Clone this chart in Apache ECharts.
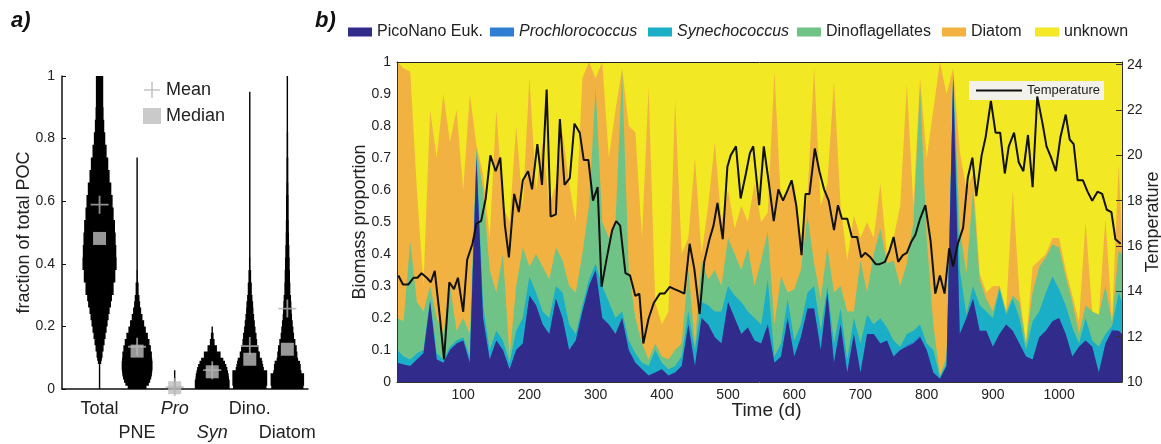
<!DOCTYPE html>
<html><head><meta charset="utf-8">
<script src="https://cdn.jsdelivr.net/npm/echarts@6.0.0/dist/echarts.min.js"></script>
<style>html,body{margin:0;padding:0;background:#fff}#c{width:1161px;height:444px}</style>
</head><body><div id="c"></div>
<script>
// ---------- Panel a: violin data ----------
const GROUPS = ['Total', 'PNE', 'Pro', 'Syn', 'Dino.', 'Diatom'];
const GROUP_POS = [1, 2, 3, 4, 5, 6];
// histogram bin edges (fraction of total POC)
const BIN_EDGES = [0,.01,.02,.03,.04,.05,.06,.07,.08,.09,.10,.12,.14,.16,.18,.20,.22,.24,.26,.28,.30,.34,.38,.42,.46,.50,.54,.58,.62,.66,.70,.74,.78,.82,.86,.90,.95,1.00];
// violin half-widths per bin (in category units)
const TOTAL_W = [.018,.018,.018,.018,.018,.018,.018,.018,.045,.063,.080,.107,.134,.161,.188,.214,.241,.268,.304,.330,.375,.420,.455,.446,.429,.411,.375,.348,.313,.268,.232,.188,.152,.125,.107,.098,.098];
const PNE_W = [.250,.313,.348,.375,.393,.402,.411,.411,.411,.402,.393,.366,.330,.286,.232,.188,.143,.107,.080,.063,.040,.022,.013,.009,.007,.007,.007,.007,.013,.018,.009,0,0,0,0,0,0];
const PRO_W = [.013,.013,.013,.005,.005,.005,0,0,0,0,0,0,0,0,0,0,0,0,0,0,0,0,0,0,0,0,0,0,0,0,0,0,0,0,0,0,0];
const SYN_W = [.464,.464,.464,.446,.438,.420,.402,.375,.339,.295,.223,.125,.063,.036,.013,0,0,0,0,0,0,0,0,0,0,0,0,0,0,0,0,0,0,0,0,0,0];
const DINO_W = [.446,.464,.464,.464,.464,.464,.375,.357,.339,.321,.268,.232,.196,.179,.152,.134,.116,.098,.089,.071,.054,.036,.022,.018,.013,.018,.013,.009,.013,.009,.013,.009,.009,.007,.007,.007,0];
const DIATOM_W = [.429,.446,.446,.446,.446,.375,.357,.357,.339,.286,.268,.250,.214,.179,.161,.143,.125,.116,.107,.098,.080,.071,.063,.054,.045,.040,.036,.036,.031,.027,.027,.022,.022,.018,.018,.013,.009];
const VIOLIN_W = [TOTAL_W, PNE_W, PRO_W, SYN_W, DINO_W, DIATOM_W];
const MEAN_VALS = [0.589, 0.135, 0.006, 0.060, 0.137, 0.257];
const MEDIAN_VALS = [0.481, 0.121, 0.004, 0.055, 0.095, 0.127];

// ---------- Panel b: biomass proportions ----------
const DAYS = [0,10,20,30,40,50,60,70,80,90,100,110,120,130,140,150,160,170,180,190,200,210,220,230,240,250,260,270,280,290,300,310,320,330,340,350,360,370,380,390,400,410,420,430,440,450,460,470,480,490,500,510,520,530,540,550,560,570,580,590,600,610,620,630,640,650,660,670,680,690,700,710,720,730,740,750,760,770,780,790,800,810,820,830,840,850,860,870,880,890,900,910,920,930,940,950,960,970,980,990,1000,1010,1020,1030,1040,1050,1060,1070,1080,1090,1095];
const PICO = [.06,.055,.05,.07,.09,.25,.07,.06,.10,.12,
 .13,.06,.70,.20,.07,.13,.10,.04,.10,.12,
 .27,.24,.18,.15,.26,.20,.10,.13,.22,.30,
 .35,.20,.18,.15,.20,.10,.06,.04,.02,.03,
 .04,.02,.03,.05,.18,.05,.20,.18,.14,.12,
 .25,.20,.15,.17,.13,.12,.18,.06,.08,.20,
 .08,.14,.23,.23,.10,.28,.06,.18,.03,.15,
 .03,.15,.15,.12,.13,.08,.10,.11,.12,.14,
 .10,.03,.01,.05,.95,.15,.20,.26,.16,.16,
 .11,.15,.18,.16,.12,.08,.07,.14,.16,.19,
 .20,.15,.08,.11,.13,.11,.03,.12,.16,.16,
 .15];
const PRO = [0,0,0,0,0,0,0,0,0,0,
 0,0,0,0,0,0,0,0,0,0,
 0,0,0,0,0,0,0,0,0,0,
 0,0,0,0,0,0,0,0,0,0,
 0,0,0,0,0,0,0,0,0,0,
 0,0,0,0,0,0,0,0,0,0,
 0,0,0,0,0,0,0,0,0,0,
 0,0,0,0,0,0,0,.005,.005,.005,
 0,0,0,0,0,0,0,0,0,0,
 0,0,0,0,0,0,0,0,0,0,
 0,0,0,0,0,0,0,0,.005,0,
 0];
const SYN = [.04,.025,.02,.02,.01,.01,.02,.01,.01,.01,
 .01,.02,.02,.04,.03,.03,.03,.02,.06,.08,
 .06,.04,.04,.05,.04,.08,.08,.02,.02,.02,
 .02,.10,.07,.05,.02,.03,.03,.02,.03,.07,
 .02,.02,.02,.03,.04,.05,.05,.06,.08,.10,
 .05,.07,.10,.05,.07,.06,.14,.02,.04,.06,
 .05,.04,.05,.07,.06,.02,.06,.05,.04,.05,
 .09,.06,.03,.08,.04,.05,.01,.035,.035,.035,
 .02,.07,.005,.01,.01,.20,.01,.04,.08,.06,
 .09,.14,.03,.10,.08,.02,.12,.08,.12,.14,
 .09,.09,.09,.01,.07,.02,.08,.03,.01,.12,
 .10];
const DINO = [.10,.11,.37,.16,.12,.04,.11,.08,.19,.03,
 .06,.07,.01,.36,.25,.12,.27,.02,.14,.22,
 .03,.12,.14,.12,.12,.10,.12,.13,.16,.23,
 .55,.20,.20,.30,.75,.22,.11,.06,.02,.02,
 .02,.03,.05,.04,.13,.02,.13,.08,.13,.08,
 .15,.13,.10,.20,.10,.20,.15,.10,.21,.02,
 .16,.17,.24,.07,.10,.12,.16,.07,.15,.02,
 .26,.07,.22,.28,.20,.25,.19,.22,.34,.74,
 .33,.08,.005,.02,.01,.13,.13,.30,.08,.04,
 .02,.01,.01,.01,.05,.02,.09,.14,.11,.10,
 .13,.09,.08,.03,.04,.09,.10,.15,.01,.13,
 .15];
const DIATOM = [.80,.79,.53,.35,.08,.55,.50,.75,.45,.69,
 .40,.75,.01,.05,.10,.57,.15,.42,.50,.13,
 .59,.20,.39,.23,.20,.40,.32,.22,.55,.45,
 .03,.50,.25,.35,.01,.45,.58,.33,.85,.13,
 .10,.15,.78,.28,.10,.58,.02,.23,.40,.20,
 .15,.08,.20,.08,.32,.12,.06,.79,.23,.32,
 .33,.10,.06,.61,.29,.20,.66,.25,.16,.30,
 .07,.22,.05,.14,.03,.07,.25,.56,.05,.03,
 .25,.67,.98,.82,.01,.24,.26,.05,.02,.02,
 .08,0,0,.33,.03,0,.08,.02,.01,.02,
 .03,.02,.02,.04,.26,0,0,.21,.01,.27,
 .05];
const UNKNOWN = [0,.02,.03,.40,.70,.15,.30,.10,.25,.15,
 .40,.10,.26,.35,.55,.15,.45,.50,.20,.45,
 .05,.40,.25,.45,.38,.22,.38,.50,.05,0,
 .05,0,.30,.15,.02,.20,.22,.55,.08,.75,
 .82,.78,.12,.60,.55,.30,.60,.45,.25,.50,
 .40,.52,.45,.50,.38,.50,.47,.03,.44,.40,
 .38,.55,.42,.02,.45,.38,.06,.45,.62,.48,
 .55,.50,.55,.38,.60,.55,.45,.07,.45,.05,
 .30,.15,0,.10,.02,.28,.40,.35,.66,.72,
 .70,.70,.78,.40,.72,.88,.64,.62,.60,.55,
 .55,.65,.73,.81,.50,.78,.79,.49,.81,.32,
 .55];
// temperature (deg C), sampled roughly weekly
const TEMP_DAYS = [2,9,17,25,31,37,45,51,57,65,
 71,79,86,92,100,106,114,120,127,134,
 141,149,156,163,169,177,184,190,198,204,
 212,219,226,232,240,246,253,261,268,276,
 282,289,296,303,309,317,325,331,337,345,
 352,360,366,372,380,388,397,404,412,419,
 427,434,442,449,457,464,472,478,484,492,
 499,504,512,519,527,533,538,547,554,562,
 569,576,583,589,596,603,611,617,623,631,
 638,645,652,660,666,672,680,687,695,701,
 707,715,723,729,737,744,750,757,764,770,
 777,783,790,798,806,813,820,827,834,840,
 847,855,862,869,875,883,889,897,904,911,
 918,924,932,939,946,953,960,967,975,981,
 988,995,1002,1010,1016,1022,1028,1036,1043,1050,
 1058,1065,1072,1079,1085,1093];
const TEMP = [14.7,14.3,14.3,14.6,14.6,14.8,14.6,14.4,14.9,12.8,
 11.0,14.4,14.1,14.6,13.1,15.4,16.1,17.0,17.1,18.1,
 20.0,19.3,19.9,16.9,15.5,18.3,17.5,18.9,19.3,18.5,
 20.5,18.7,22.9,17.3,17.4,21.6,18.7,19.0,21.4,21.0,
 19.8,19.8,18.0,18.6,14.2,15.5,16.7,17.1,16.9,14.8,
 14.7,13.8,13.9,11.7,12.8,13.5,13.9,13.9,14.2,14.1,
 14.0,13.9,16.1,15.0,13.0,15.3,16.3,16.9,17.9,16.3,
 19.5,20.0,20.4,18.1,19.2,20.1,20.4,17.8,20.4,18.7,
 17.1,18.5,18.0,18.4,18.9,17.8,15.6,18.3,18.3,20.3,
 19.3,18.5,18.0,16.7,17.8,17.2,17.2,16.4,16.4,15.5,
 15.7,15.5,15.2,15.2,15.3,15.8,16.4,15.3,15.6,15.7,
 16.2,16.5,17.2,17.8,16.2,13.9,14.7,13.9,15.9,15.1,
 16.1,16.8,19.0,19.9,18.2,20.0,20.8,22.4,21.0,21.0,
 19.2,20.4,21.0,19.7,19.3,20.9,18.6,22.6,21.4,20.4,
 19.9,19.3,20.8,21.8,20.7,20.5,18.9,18.9,18.4,18.0,
 18.4,18.3,17.6,17.5,16.3,16.1];

const SERIES_NAMES = ['PicoNano Euk.', 'Prochlorococcus', 'Synechococcus', 'Dinoflagellates', 'Diatom', 'unknown'];
const SERIES_VALUES = [PICO, PRO, SYN, DINO, DIATOM, UNKNOWN];
const SERIES_COLORS = ['#312c8c', '#2f7ed3', '#1aafc7', '#6fc387', '#f1b241', '#f2e823'];
const ITALIC_NAMES = ['Prochlorococcus', 'Synechococcus'];

const FONT = '"Liberation Sans", Arial, Helvetica, sans-serif';
const TXT = '#222';

const chart = echarts.init(document.getElementById('c'), null, {renderer: 'canvas'});

function renderViolin(params, api) {
  const i = params.dataIndex;
  const c = api.value(0);
  const w = VIOLIN_W[i];
  const unit = api.size([1, 0])[0];
  const cx = api.coord([c, 0])[0];
  const ys = BIN_EDGES.map(e => api.coord([c, e])[1]);
  const hw = w.map(v => v > 0 ? Math.max(v * unit, 0.7) : 0);
  const pts = [];
  for (let k = 0; k < w.length; k++) { pts.push([cx + hw[k], ys[k]]); pts.push([cx + hw[k], ys[k + 1]]); }
  for (let k = w.length - 1; k >= 0; k--) { pts.push([cx - hw[k], ys[k + 1]]); pts.push([cx - hw[k], ys[k]]); }
  return {type: 'polygon', shape: {points: pts}, style: {fill: '#000'}};
}

const PLUS = 'path://M9,0h2v9h9v2h-9v9h-2v-9h-9v-2h9z';
const LEGEND_LEFT = [348, 490, 648, 797, 942, 1035];

const legends = SERIES_NAMES.map((n, i) => ({
  data: [n], left: LEGEND_LEFT[i], top: 24, itemWidth: 24, itemHeight: 9, icon: 'rect',
  padding: 0, selectedMode: false,
  formatter: name => ITALIC_NAMES.includes(name) ? '{i|' + name + '}' : name,
  textStyle: {fontFamily: FONT, fontSize: 16, color: TXT, rich: {i: {fontStyle: 'italic', fontFamily: FONT, fontSize: 16, color: TXT}}}
}));
legends.push({
  data: ['Mean', 'Median'], orient: 'vertical', left: 143, top: 81, itemWidth: 18, itemHeight: 16, itemGap: 8,
  padding: 0, selectedMode: false,
  textStyle: {fontFamily: FONT, fontSize: 18, color: TXT}
});
legends.push({
  data: ['Temperature'], left: 969, top: 81, itemWidth: 46, itemHeight: 2, icon: 'rect', padding: [3, 4, 3, 7],
  backgroundColor: 'rgba(242,242,242,0.97)', selectedMode: false,
  textStyle: {fontFamily: FONT, fontSize: 13, color: TXT}
});

// stacked layers: each layer is filled from 0 up to the running total, drawn top layer first
const areaSeries = [];
for (let i = SERIES_NAMES.length - 1; i >= 0; i--) {
  areaSeries.push({
    name: SERIES_NAMES[i], type: 'line', xAxisIndex: 1, yAxisIndex: 1,
    symbol: 'none', showSymbol: false, smooth: false, color: SERIES_COLORS[i],
    lineStyle: {width: 0}, areaStyle: {color: SERIES_COLORS[i], opacity: 1, origin: 'start'},
    data: DAYS.map((d, k) => {
      let s = 0;
      for (let j = 0; j <= i; j++) s += SERIES_VALUES[j][k];
      return [d, s];
    }),
    z: 2, silent: true
  });
}

const option = {
  animation: false,
  backgroundColor: '#fff',
  textStyle: {fontFamily: FONT},
  graphic: [
    {type: 'text', left: 11, top: 10, style: {text: 'a)', font: 'italic bold 22px ' + FONT, fill: '#111'}},
    {type: 'text', left: 315, top: 10, style: {text: 'b)', font: 'italic bold 22px ' + FONT, fill: '#111'}}
  ],
  legend: legends,
  grid: [
    {left: 62, top: 76, width: 246, height: 313, outerBoundsMode: 'none', containLabel: false},
    {left: 397, top: 62, width: 725, height: 320, outerBoundsMode: 'none', containLabel: false}
  ],
  xAxis: [
    {type: 'value', gridIndex: 0, min: 0, max: 6.55, interval: 1,
     axisLine: {show: true, onZero: false, lineStyle: {color: '#111', width: 1.5}}, axisTick: {show: false}, splitLine: {show: false},
     axisLabel: {margin: 8, fontFamily: FONT, fontSize: 18, color: TXT, lineHeight: 24, showMaxLabel: false,
       formatter: v => {
         const idx = GROUP_POS.indexOf(v);
         if (idx < 0) return '';
         const name = GROUPS[idx];
         const txt = (name === 'Pro' || name === 'Syn') ? '{i|' + name + '}' : '{n|' + name + '}';
         return idx % 2 === 1 ? '{n| }\n' + txt : txt;
       },
       rich: {n: {fontFamily: FONT, fontSize: 18, color: TXT, lineHeight: 24}, i: {fontFamily: FONT, fontSize: 18, color: TXT, fontStyle: 'italic', lineHeight: 24}}
     }},
    {type: 'value', gridIndex: 1, min: 0, max: 1095, interval: 100, z: 10,
     name: 'Time (d)', nameLocation: 'middle', nameGap: 19, nameMoveOverlap: false,
     nameTextStyle: {fontFamily: FONT, fontSize: 19, color: TXT, padding: [0, 0, 0, 14]},
     axisLine: {show: true, onZero: false, lineStyle: {color: '#333', width: 1}}, axisTick: {show: false}, splitLine: {show: false},
     axisLabel: {margin: 6, fontFamily: FONT, fontSize: 14, color: TXT, showMinLabel: false, showMaxLabel: false, formatter: v => String(v)}},
    {type: 'value', gridIndex: 1, position: 'top', min: 0, max: 1095, z: 10,
     axisLine: {show: true, onZero: false, lineStyle: {color: '#222', width: 1}}, axisTick: {show: false}, axisLabel: {show: false}, splitLine: {show: false}}
  ],
  yAxis: [
    {type: 'value', gridIndex: 0, min: 0, max: 1, interval: 0.2,
     name: 'fraction of total POC', nameLocation: 'middle', nameGap: 29, nameRotate: 90, nameMoveOverlap: false,
     nameTextStyle: {fontFamily: FONT, fontSize: 18, color: TXT},
     axisLine: {show: true, onZero: false, lineStyle: {color: '#111', width: 1.5}}, axisTick: {show: true, inside: true, length: 4, lineStyle: {color: '#111'}},
     splitLine: {show: false},
     axisLabel: {margin: 7, fontFamily: FONT, fontSize: 14, color: TXT, formatter: v => String(v)}},
    {type: 'value', gridIndex: 1, min: 0, max: 1, interval: 0.1, z: 10,
     name: 'Biomass proportion', nameLocation: 'middle', nameGap: 28, nameRotate: 90, nameMoveOverlap: false,
     nameTextStyle: {fontFamily: FONT, fontSize: 18, color: TXT},
     axisLine: {show: true, onZero: false, lineStyle: {color: '#333', width: 1}}, axisTick: {show: false}, splitLine: {show: false},
     axisLabel: {margin: 6, fontFamily: FONT, fontSize: 14, color: TXT, formatter: v => String(v)}},
    {type: 'value', gridIndex: 1, position: 'right', min: 10, max: 24.12, interval: 2, z: 10,
     name: 'Temperature', nameLocation: 'middle', nameGap: 22, nameRotate: 90, nameMoveOverlap: false,
     nameTextStyle: {fontFamily: FONT, fontSize: 18, color: TXT},
     axisLine: {show: true, onZero: false, lineStyle: {color: '#333', width: 1}}, axisTick: {show: true, inside: true, length: 6, lineStyle: {color: '#333'}},
     splitLine: {show: false},
     axisLabel: {margin: 5, fontFamily: FONT, fontSize: 14, color: TXT, showMaxLabel: false, formatter: v => String(v)}}
  ],
  series: [
    {type: 'custom', name: 'violins', xAxisIndex: 0, yAxisIndex: 0, renderItem: renderViolin,
     data: GROUP_POS.map(p => [p, 0]), silent: true, z: 2},
    {type: 'scatter', name: 'Median', xAxisIndex: 0, yAxisIndex: 0, symbol: 'rect', symbolSize: 13,
     itemStyle: {color: '#bdbdbd'}, data: GROUP_POS.map((p, i) => [p, MEDIAN_VALS[i]]), z: 3, silent: true},
    {type: 'scatter', name: 'Mean', xAxisIndex: 0, yAxisIndex: 0, symbol: PLUS, symbolSize: 18,
     itemStyle: {color: '#b4b4b4'}, data: GROUP_POS.map((p, i) => [p, MEAN_VALS[i]]), z: 4, silent: true},
    ...areaSeries,
    {type: 'line', name: 'Temperature', xAxisIndex: 1, yAxisIndex: 2, symbol: 'none', showSymbol: false,
     color: '#111', lineStyle: {color: '#111', width: 2}, z: 6, silent: true,
     data: TEMP_DAYS.map((d, k) => [d, TEMP[k]])}
  ]
};
chart.setOption(option);
</script></body></html>
